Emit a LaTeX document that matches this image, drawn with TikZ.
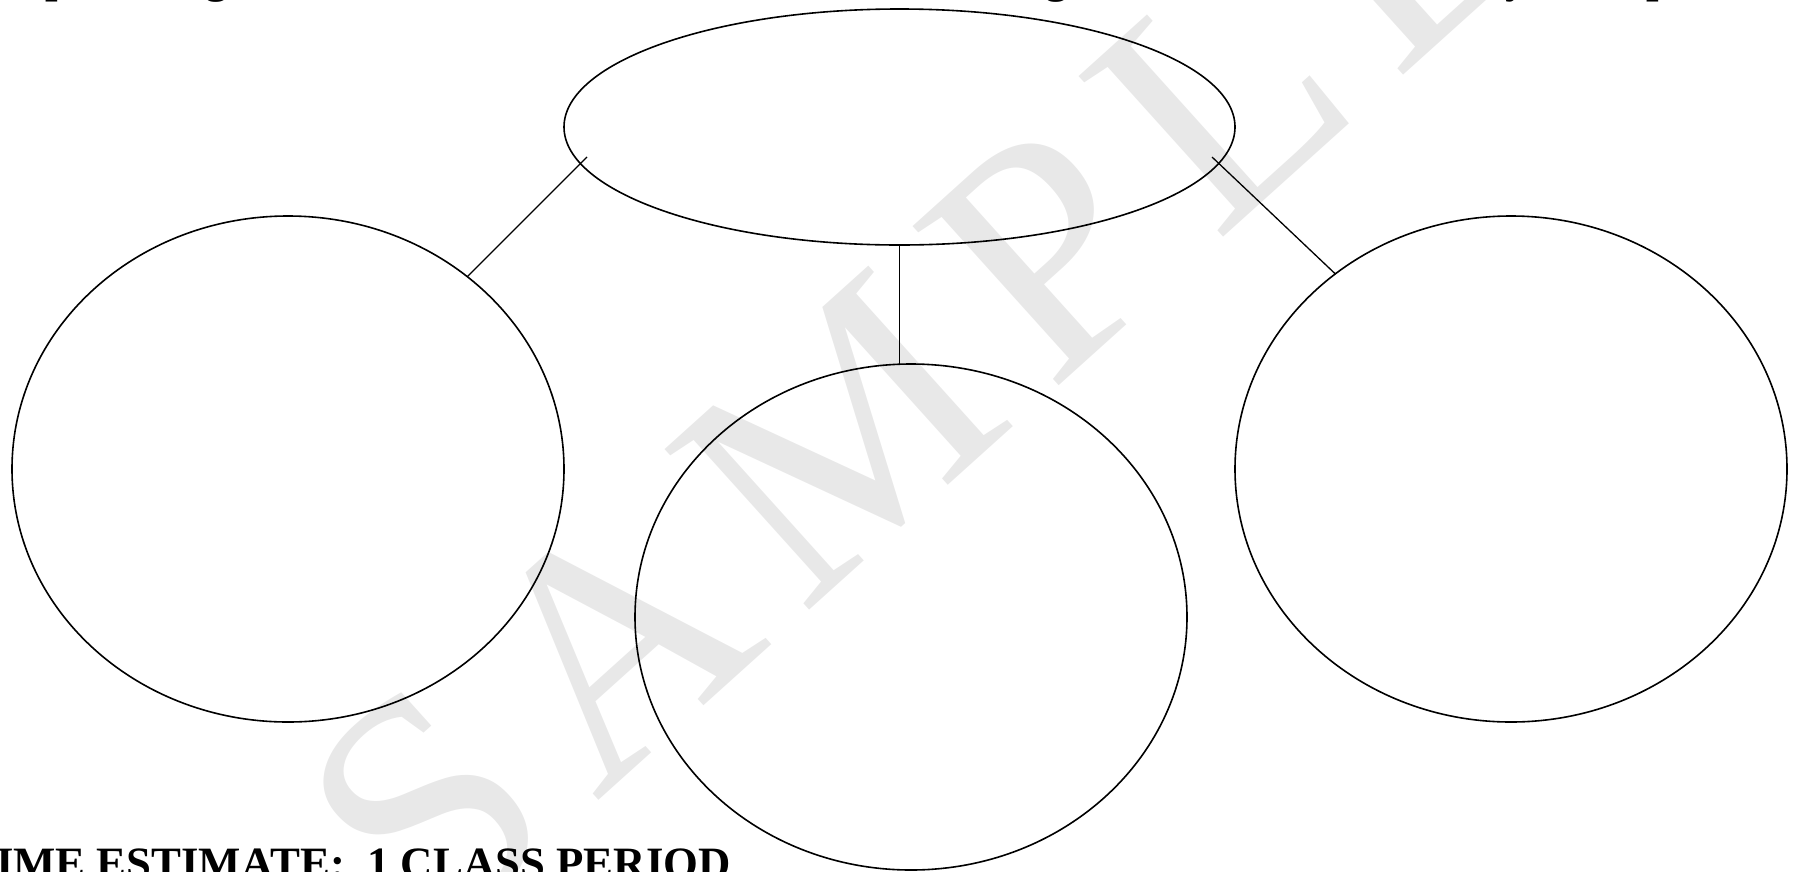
\documentclass[tikz,border=0pt]{standalone}
\usepackage{fontspec}
\setmainfont{Liberation Serif}
\usetikzlibrary{shapes.geometric}
\definecolor{wm}{RGB}{232,232,232}
\tikzset{
  bubble/.style={draw, line width=1.6pt, ellipse, inner sep=0pt, outer sep=0pt},
  link/.style={line width=1.3pt},
  frag/.style={inner sep=0pt, anchor=base west, font=\fontsize{44.8}{50}\selectfont\bfseries},
  mark wm/.style={inner sep=0pt, anchor=base west, text=wm, font=\fontsize{330}{330}\selectfont}
}
\begin{document}
\begin{tikzpicture}[x=1pt,y=-1pt]
\useasboundingbox (0,0) rectangle (1797,871);
\begin{scope}
\clip (0,0) rectangle (1797,871);
% watermark
\node[mark wm, rotate=42] (wmark) at (430,952) {S\kern40pt A\kern40pt M\kern40pt P\kern40pt L\kern40pt E};
% cut-off heading fragments
\node[frag] (f1) at (45,-8) {p};
\node[frag] (f2) at (205,-8) {g};
\node[frag] (f3) at (1045,-8) {g};
\node[frag] (f4) at (1505,-8) {y};
\node[frag] (f5) at (1646,-8) {p};
% bottom text
\node[frag] (time) at (-34,878) {TIME ESTIMATE:\ \ 1 CLASS PERIOD};
\end{scope}
% bubbles
\node[bubble, minimum width=671pt, minimum height=236pt] (top) at (899.5,127) {};
\node[bubble, minimum width=552pt, minimum height=506pt] (left) at (288,469) {};
\node[bubble, minimum width=552pt, minimum height=506pt] (mid) at (911,617) {};
\node[bubble, minimum width=552pt, minimum height=506pt] (right) at (1511,469) {};
% connectors
\coordinate (tl) at (587,157);
\coordinate (tr) at (1212,157);
\draw[link] (tl) -- (left.47.2);
\draw[link] (tr) -- (right.132.8);
\draw[link] (top.south) -- (top.south |- mid.north);
\end{tikzpicture}
\end{document}
